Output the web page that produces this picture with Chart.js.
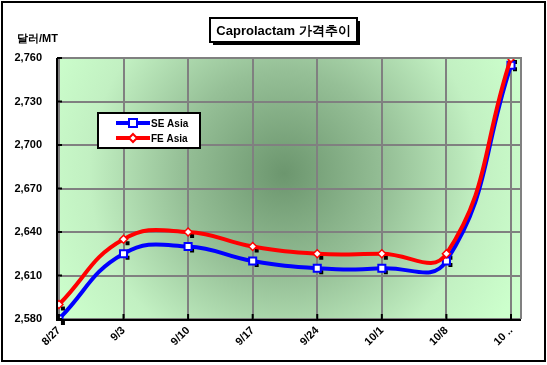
<!DOCTYPE html>
<html><head><meta charset="utf-8">
<script src="https://cdn.jsdelivr.net/npm/chart.js@4/dist/chart.umd.min.js"></script>
<style>html,body{margin:0;padding:0;background:#fff}#wrap{width:547px;height:365px}</style>
</head><body><div id="wrap"><canvas id="c" width="547" height="365"></canvas></div>
<script>
const categories = ['8/27','9/3','9/10','9/17','9/24','10/1','10/8','10 ..'];
const seAsia = [2580, 2625, 2630, 2620, 2615, 2615, 2620, 2755];
const feAsia = [2590, 2635, 2640, 2630, 2625, 2625, 2625, 2760];
const yTicks = [2580, 2610, 2640, 2670, 2700, 2730, 2760];
const titleText = 'Caprolactam 가격추이';
const yUnit = '달러/MT';

const FONT = '"Liberation Sans", Arial, sans-serif';

const bgPlugin = {
  id: 'bg',
  beforeDraw(chart) {
    const {ctx, chartArea: a} = chart;
    ctx.save();
    ctx.fillStyle = '#fff';
    ctx.fillRect(0, 0, chart.width, chart.height);
    const cx = (a.left + a.right) / 2 - 5, cy = (a.top + a.bottom) / 2 - 15;
    const g = ctx.createRadialGradient(cx, cy, 0, cx, cy, 260);
    g.addColorStop(0, '#6c966e');
    g.addColorStop(0.4, '#96c097');
    g.addColorStop(0.75, '#c2f0c2');
    g.addColorStop(1, '#ccffcc');
    ctx.fillStyle = g;
    ctx.fillRect(a.left, a.top, a.right - a.left, a.bottom - a.top);
    ctx.restore();
  },
  afterDraw(chart) {
    const {ctx, chartArea: a} = chart;
    ctx.save();
    ctx.strokeStyle = '#000'; ctx.lineWidth = 2;
    ctx.strokeRect(2, 2, 543, 359);
    ctx.strokeStyle = '#808080'; ctx.lineWidth = 2;
    ctx.beginPath(); ctx.moveTo(a.left, a.top); ctx.lineTo(a.right, a.top); ctx.lineTo(a.right, a.bottom); ctx.stroke();
    ctx.strokeStyle = '#000'; ctx.lineWidth = 2;
    ctx.beginPath(); ctx.moveTo(a.left, a.top); ctx.lineTo(a.left, a.bottom + 1); ctx.lineTo(a.right, a.bottom + 1); ctx.stroke();
    const ys = chart.scales.y;
    yTicks.forEach(v => { const y = ys.getPixelForValue(v); ctx.beginPath(); ctx.moveTo(a.left, y); ctx.lineTo(a.left + 5, y); ctx.stroke(); });
    const xs = chart.scales.x;
    categories.forEach((c, i) => { const x = xs.getPixelForValue(i); ctx.beginPath(); ctx.moveTo(x, a.bottom); ctx.lineTo(x, a.bottom - 5); ctx.stroke(); });

    ctx.font = 'bold 13px ' + FONT;
    const bx = 210, by = 18, bw = 147, bh = 24;
    ctx.fillStyle = '#000';
    ctx.fillRect(bx + 3, by + 3, bw, bh);
    ctx.fillStyle = '#fff';
    ctx.fillRect(bx, by, bw, bh);
    ctx.strokeStyle = '#000'; ctx.lineWidth = 2;
    ctx.strokeRect(bx, by, bw, bh);
    ctx.fillStyle = '#000';
    ctx.textAlign = 'center'; ctx.textBaseline = 'middle';
    ctx.fillText(titleText, bx + bw / 2, by + bh / 2 + 1);

    ctx.font = 'bold 11px ' + FONT;
    ctx.textAlign = 'left';
    ctx.fillText(yUnit, 17, 39);

    const lx = 98, ly = 113, lw = 102, lh = 35;
    ctx.fillStyle = '#fff';
    ctx.fillRect(lx, ly, lw, lh);
    ctx.strokeStyle = '#000'; ctx.lineWidth = 2;
    ctx.strokeRect(lx, ly, lw, lh);
    const ds = chart.data.datasets;
    [ds[0], ds[1]].forEach((d, i) => {
      const y = ly + 10 + i * 15;
      ctx.strokeStyle = d.borderColor; ctx.lineWidth = 4;
      ctx.beginPath(); ctx.moveTo(lx + 18, y); ctx.lineTo(lx + 52, y); ctx.stroke();
      ctx.fillStyle = '#fff'; ctx.lineWidth = 2;
      if (d.pointStyle === 'rect') {
        ctx.fillRect(lx + 31, y - 4, 8, 8); ctx.strokeRect(lx + 31, y - 4, 8, 8);
      } else {
        ctx.beginPath(); ctx.moveTo(lx + 35, y - 4); ctx.lineTo(lx + 39, y); ctx.lineTo(lx + 35, y + 4); ctx.lineTo(lx + 31, y); ctx.closePath(); ctx.fill(); ctx.stroke();
      }
      ctx.fillStyle = '#000';
      ctx.font = 'bold 10px ' + FONT;
      ctx.textAlign = 'left'; ctx.textBaseline = 'middle';
      ctx.fillText(d.label, lx + 53, y + 1);
    });
    ctx.restore();
  }
};

const shadowPlugin = {
  id: 'shadow',
  beforeDatasetsDraw(chart) {
    const {ctx} = chart;
    const xs = chart.scales.x, ys = chart.scales.y;
    ctx.save();
    ctx.fillStyle = '#000';
    [seAsia, feAsia].forEach(arr => arr.forEach((v, i) => {
      const x = xs.getPixelForValue(i), y = ys.getPixelForValue(v);
      ctx.fillRect(x + 2, y + 2, 4, 4);
    }));
    ctx.restore();
  }
};

new Chart(document.getElementById('c'), {
  type: 'line',
  data: {
    datasets: [
      { label: 'SE Asia', data: seAsia.map((v, i) => ({x: i, y: v})), borderColor: '#0000ff', borderWidth: 4,
        pointStyle: 'rect', pointRadius: 5, pointBackgroundColor: '#fff', pointBorderColor: '#0000ff', pointBorderWidth: 2,
        tension: 0.45, order: 1 },
      { label: 'FE Asia', data: feAsia.map((v, i) => ({x: i, y: v})), borderColor: '#ff0000', borderWidth: 4,
        pointStyle: 'rectRot', pointRadius: 4, pointBackgroundColor: '#fff', pointBorderColor: '#ff0000', pointBorderWidth: 1.5,
        tension: 0.45, order: 0 }
    ]
  },
  options: {
    responsive: false, animation: false, devicePixelRatio: 1,
    layout: { padding: { top: 58, right: 26, left: 0, bottom: 0 } },
    plugins: { legend: { display: false }, tooltip: { enabled: false }, title: { display: false } },
    scales: {
      x: {
        type: 'linear', min: -0.03, max: 7.155,
        afterBuildTicks(s) { s.ticks = categories.map((c, i) => ({ value: i })); },
        afterFit(s) { s.height = 46; },
        grid: { color: '#808080', lineWidth: 2, drawTicks: false },
        border: { display: false },
        ticks: { minRotation: 45, maxRotation: 45, autoSkip: false, padding: 5, color: '#000',
          font: { family: FONT, size: 11, weight: 'bold' },
          callback: (v) => categories[Math.round(v)] }
      },
      y: {
        min: 2580, max: 2760,
        afterBuildTicks(s) { s.ticks = yTicks.map(v => ({ value: v })); },
        afterFit(s) { s.width = 57; },
        grid: { color: '#808080', lineWidth: 2, drawTicks: false },
        border: { display: false },
        ticks: { padding: 15, color: '#000', font: { family: FONT, size: 11, weight: 'bold' },
          callback: (v) => v.toLocaleString('en-US') }
      }
    }
  },
  plugins: [bgPlugin, shadowPlugin]
});
</script>
</body></html>
